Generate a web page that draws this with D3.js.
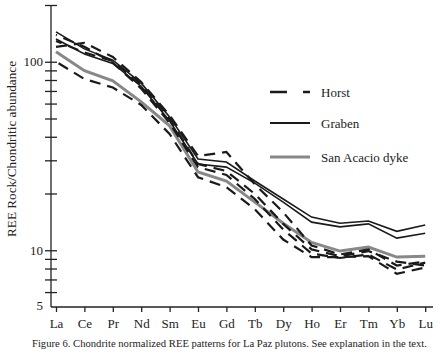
<!DOCTYPE html>
<html>
<head>
  <meta charset="utf-8">
  <script src="https://d3js.org/d3.v7.min.js"></script>
  <style type="text/css">
  body { margin: 0; background: #fff; }
  svg { display: block; }
  svg text { font-family: "Liberation Serif", "DejaVu Serif", serif; fill: #222; }
  .axis path { display: none; }
  .axis text { font-family: "Liberation Serif", serif; font-size: 13px; fill: #222; }
  .axis line { stroke: #222; }
  </style>
</head>
<body>
  <script type="text/javascript">
    // element order along the x axis
    var elements = ["La","Ce","Pr","Nd","Sm","Eu","Gd","Tb","Dy","Ho","Er","Tm","Yb","Lu"];

    // Horst samples (dashed)
    var horst1 = [120, 126, 106, 78, 52, 31.6, 33.2, 22.4, 15.9, 10.6, 9.5, 10.1, 8.3, 8.7];
    var horst2 = [129, 112, 101, 75, 49.7, 28.7, 26.3, 19.9, 13.8, 10.1, 9.3, 9.9, 8.7, 8.3];
    var horst3 = [139, 120, 99, 72, 47.3, 27.6, 25.1, 18.7, 12.9, 9.6, 9.1, 9.5, 7.9, 8.6];
    var horst4 = [100, 81, 73, 59, 41.4, 24.4, 21.6, 16.5, 11.4, 9.2, 9.2, 9.3, 7.5, 8.1];

    // Graben samples (solid)
    var graben1 = [144, 117, 102, 77, 51, 30.5, 29.4, 23.3, 18.7, 15.0, 13.9, 14.3, 12.6, 13.6];
    var graben2 = [132, 110, 98, 74, 48.5, 28.7, 27.6, 22.7, 18.0, 14.1, 13.3, 13.8, 11.6, 12.3];

    // San Acacio dyke (grey)
    var sanAcacio = [113, 89.6, 79.2, 61.3, 45.7, 26.0, 23.3, 18.0, 13.9, 11.0, 9.9, 10.4, 9.2, 9.3];

    var yTicks = [6, 7, 8, 9, 10, 20, 30, 40, 50, 60, 70, 80, 90, 100, 200];
    var yLabels = [5, 10, 100];

    var legendItems = ["Horst", "Graben", "San Acacio dyke"];

    var W = 440, H = 357;
    var axLeft = 51, axRight = 433, axTop = 5, axBottom = 307;

    var svg = d3.select("body").append("svg")
      .attr("width", W)
      .attr("height", H);

    var x = d3.scalePoint()
      .domain(elements)
      .range([56, 425.2]);

    var y = d3.scaleLog()
      .domain([5, 200])
      .range([axBottom, axTop]);

    // axes lines
    svg.append("line")
      .attr("x1", axLeft).attr("x2", axLeft)
      .attr("y1", axTop).attr("y2", axBottom)
      .attr("stroke", "#222").attr("stroke-width", 1.3);
    svg.append("line")
      .attr("x1", axLeft).attr("x2", axRight)
      .attr("y1", axBottom).attr("y2", axBottom)
      .attr("stroke", "#222").attr("stroke-width", 1.3);

    // y ticks crossing the axis
    var yAxis = svg.append("g")
      .attr("class", "axis")
      .attr("transform", "translate(" + axLeft + ",0)")
      .call(d3.axisLeft(y).tickValues(yTicks).tickSize(6).tickFormat(""));
    yAxis.selectAll(".tick line").attr("x1", 6).attr("x2", -6).attr("stroke-width", 1.3);

    svg.selectAll(".ylab")
      .data(yLabels)
      .enter().append("text")
      .attr("class", "ylab")
      .attr("x", 43)
      .attr("y", function(d) { return d === 5 ? y(d) - 2 : y(d); })
      .attr("dy", "0.35em")
      .attr("text-anchor", "end")
      .style("font-size", "13px")
      .text(function(d) { return d; });

    // x ticks and labels
    var xAxis = svg.append("g")
      .attr("class", "axis")
      .attr("transform", "translate(0," + axBottom + ")")
      .call(d3.axisBottom(x).tickSize(5).tickPadding(5));
    xAxis.selectAll(".tick line").attr("stroke-width", 1.3);
    xAxis.selectAll(".tick text").attr("dy", "0.85em");

    // y title
    svg.append("text")
      .attr("transform", "translate(16,149) rotate(-90)")
      .attr("text-anchor", "middle")
      .attr("textLength", 176)
      .attr("lengthAdjust", "spacingAndGlyphs")
      .style("font-size", "13px")
      .text("REE Rock/Chondritic abundance");

    // caption
    svg.append("text")
      .attr("x", 229.5)
      .attr("y", 347)
      .attr("text-anchor", "middle")
      .attr("textLength", 395)
      .attr("lengthAdjust", "spacingAndGlyphs")
      .style("font-size", "10.5px")
      .text("Figure 6. Chondrite normalized REE patterns for La Paz plutons. See explanation in the text.");

    var line = d3.line()
      .x(function(d, i) { return x(elements[i]); })
      .y(function(d) { return y(d); });

    var plot = svg.append("g");

    plot.append("path")
      .attr("d", line(sanAcacio))
      .attr("fill", "none")
      .attr("stroke", "#888")
      .attr("stroke-width", 3);

    [graben1, graben2].forEach(function(s) {
      plot.append("path")
        .attr("d", line(s))
        .attr("fill", "none")
        .attr("stroke", "#1a1a1a")
        .attr("stroke-width", 1.6);
    });

    [horst1, horst2, horst3, horst4].forEach(function(s, i) {
      plot.append("path")
        .attr("d", line(s))
        .attr("fill", "none")
        .attr("stroke", "#1a1a1a")
        .attr("stroke-width", 2.2)
        .attr("stroke-dasharray", "11,7")
        .attr("stroke-dashoffset", i * 5);
    });

    // legend
    var legend = svg.selectAll(".legend")
      .data(legendItems)
      .enter().append("g")
      .attr("class", "legend")
      .attr("transform", function(d, i) { return "translate(0," + [92, 123, 157][i] + ")"; });

    legend.append("line")
      .attr("x1", 270).attr("x2", 310)
      .attr("y1", 0).attr("y2", 0)
      .attr("stroke", function(d, i) { return i === 2 ? "#888" : "#1a1a1a"; })
      .attr("stroke-width", function(d, i) { return [2.6, 1.8, 3.2][i]; })
      .attr("stroke-dasharray", function(d, i) { return i === 0 ? "17,16" : null; });

    legend.append("text")
      .attr("x", 321)
      .attr("y", 0)
      .attr("dy", "0.35em")
      .style("font-size", "13px")
      .text(function(d) { return d; });
  </script>
</body>
</html>
